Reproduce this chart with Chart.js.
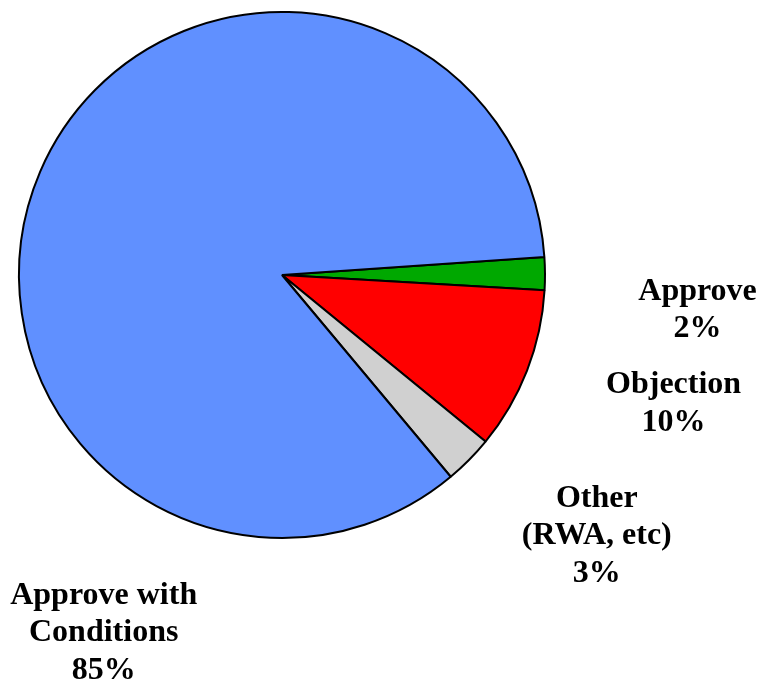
<!DOCTYPE html>
<html>
<head>
<meta charset="utf-8">
<script src="https://cdn.jsdelivr.net/npm/chart.js@4.4.0/dist/chart.umd.min.js"></script>
<style>
  html, body { margin: 0; padding: 0; background: #fff; }
  #wrap { width: 767px; height: 683px; position: relative; }
</style>
</head>
<body>
<div id="wrap"><canvas id="myChart"></canvas></div>
<script>
///// pie data

const categories = ['Approve', 'Objection', 'Other (RWA, etc)', 'Approve with Conditions'];
const labelLines = [['Approve'], ['Objection'], ['Other', '(RWA, etc)'], ['Approve with', 'Conditions']];
const values = [2, 10, 3, 85];
const colors = ['#00a800', '#ff0000', '#d0d0d0', '#6090ff'];

// label anchor, in units of the pie radius from its centre (x = centre of text, y = first baseline)
const labelAnchor = [
  [1.58, 0.095],
  [1.489, 0.45],
  [1.197, 0.882],
  [-0.678, 1.25],
];

const outsideLabels = {
  id: 'outsideLabels',
  afterDraw(chart) {
    const ctx = chart.ctx;
    const arc = chart.getDatasetMeta(0).data[0];
    const cx = arc.x, cy = arc.y, r = arc.outerRadius;
    ctx.save();
    ctx.font = 'bold 32px "Liberation Serif", "Times New Roman", serif';
    ctx.fillStyle = '#000';
    ctx.textAlign = 'center';
    ctx.textBaseline = 'alphabetic';
    labelLines.forEach((lines, i) => {
      const all = lines.concat([values[i] + '%']);
      const x = cx + labelAnchor[i][0] * r;
      let y = cy + labelAnchor[i][1] * r;
      all.forEach((t) => {
        ctx.fillText(t, x, y);
        y += 37.5;
      });
    });
    ctx.restore();
  },
};

const ctx = document.querySelector('#myChart').getContext('2d');

const myChart = new Chart(ctx, {
  type: 'pie',
  data: {
    labels: categories,
    datasets: [
      {
        data: values,
        backgroundColor: colors,
        borderColor: '#000',
        borderWidth: 2,
      },
    ],
  },
  options: {
    responsive: true,
    maintainAspectRatio: false,
    animation: false,
    rotation: 86.1,
    layout: {
      padding: { left: 18, top: 11, right: 221, bottom: 144 },
    },
    plugins: {
      legend: { display: false },
      tooltip: { enabled: false },
    },
  },
  plugins: [outsideLabels],
});

////
</script>
</body>
</html>
